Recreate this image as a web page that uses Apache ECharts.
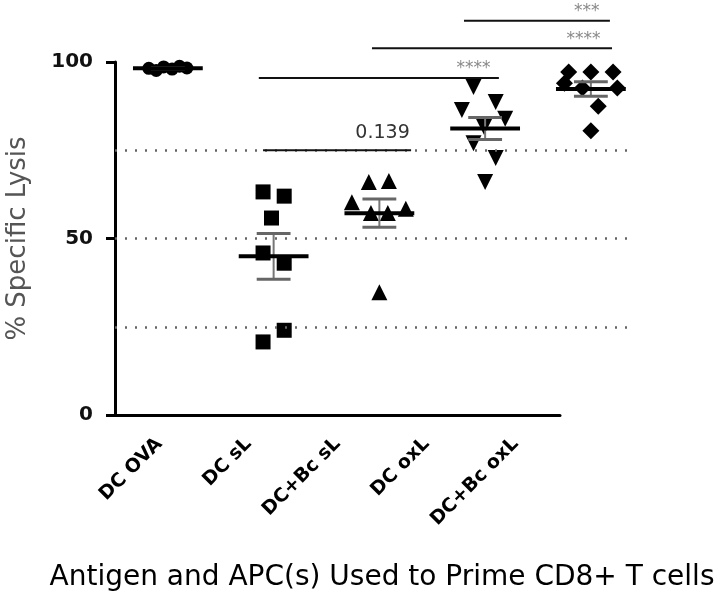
<!DOCTYPE html>
<html><head><meta charset="utf-8">
<script src="https://cdn.jsdelivr.net/npm/echarts@6/dist/echarts.min.js"></script>
<style>html,body{margin:0;padding:0;background:#fff}#c{width:720px;height:599px}</style>
</head><body><div id="c"></div>
<script>
const categories = ['DC OVA', 'DC sL', 'DC+Bc sL', 'DC oxL', 'DC+Bc oxL'];
const yTicks = [0, 50, 100];
const refLines = [25, 50, 75];

// per-group measured values (% specific lysis)
const dcOVA    = [98.2, 97.6, 98.6, 98.0, 98.8, 98.3];
const dcSL     = [63.2, 62.0, 55.8, 45.9, 43.0, 24.0, 20.7];
const dcBcSL   = [66.0, 66.3, 60.3, 58.4, 57.2, 57.2, 34.8];
const dcOxL    = [92.9, 88.7, 86.4, 83.9, 81.6, 77.0, 72.8, 66.0];
const dcBcOxL  = [97.2, 97.2, 97.2, 94.0, 92.6, 92.6, 87.5, 80.5];
// horizontal jitter within each group (category units)
const jitOVA   = [-0.18, -0.11, -0.04, 0.04, 0.11, 0.18];
const jitSL    = [-0.10, 0.10, -0.02, -0.10, 0.10, 0.10, -0.10];
const jitBcSL  = [-0.10, 0.09, -0.26, 0.25, -0.08, 0.08, 0.00];
const jitOxL   = [-0.11, 0.10, -0.22, 0.19, -0.01, -0.11, 0.10, 0.00];
const jitBcOxL = [-0.21, 0.00, 0.21, -0.25, -0.08, 0.25, 0.07, 0.00];

// significance brackets
const sigFrom   = [0.9, 0.86, 1.93, 2.8];
const sigTo     = [2.3, 3.13, 4.2, 4.18];
const sigLevel  = [75.0, 95.5, 103.9, 111.7];
const sigLabel  = ['0.139', '****', '****', '***'];
const sigLabelX = [2.03, 2.89, 3.93, 3.96];

const groups = [dcOVA, dcSL, dcBcSL, dcOxL, dcBcOxL];
const jitters = [jitOVA, jitSL, jitBcSL, jitOxL, jitBcOxL];
const symbols = ['circle', 'rect', 'triangle', 'path://M0,0 L10,0 L5,9 Z', 'diamond'];
const symSizes = [13, 15, 16, 16, 17];

function stats(a){
  const n=a.length, m=a.reduce((s,v)=>s+v,0)/n;
  const sd=Math.sqrt(a.reduce((s,v)=>s+(v-m)*(v-m),0)/(n-1));
  return [m, sd/Math.sqrt(n)];
}
const summary = groups.map((g,i)=>{const [m,se]=stats(g);return [i,m,se];});

const chart = echarts.init(document.getElementById('c'));
const scatterSeries = groups.map((g,i)=>({
  type:'scatter', xAxisIndex:1, yAxisIndex:1,
  symbol: symbols[i], symbolSize: symSizes[i],
  itemStyle:{color:'#000', opacity:1},
  data: g.map((v,k)=>[i+jitters[i][k], v]), z:3
}));

const option = {
  animation:false,
  grid:[
    {left:115, top:62, width:445, height:353, containLabel:false, outerBoundsMode:'none'},
    {left:115, top:2, width:512, height:413, containLabel:false, outerBoundsMode:'none'}
  ],
  xAxis:[
    {gridIndex:0, type:'category', data:categories, boundaryGap:true,
     axisLine:{lineStyle:{color:'#000', width:3}},
     axisTick:{alignWithLabel:true, length:8, lineStyle:{width:3,color:'#000'}},
     axisLabel:{rotate:45, margin:26, color:'#000', fontSize:19, fontWeight:'bold', fontFamily:'DejaVu Sans'}},
    {gridIndex:1, type:'value', min:-0.5, max:-0.5+512/105.75, show:false}
  ],
  yAxis:[
    {gridIndex:0, type:'value', min:0, max:100, interval:50,
     name:'% Specific Lysis', nameLocation:'middle', nameGap:84, nameRotate:90,
     nameTextStyle:{fontSize:26, color:'#555', fontFamily:'DejaVu Sans'},
     axisLine:{show:true, lineStyle:{color:'#000', width:3}},
     axisTick:{show:true, length:9, lineStyle:{width:3,color:'#000'}},
     axisLabel:{margin:22, color:'#111', fontSize:20, fontWeight:'bold', fontFamily:'DejaVu Sans',
       formatter:v=>yTicks.includes(v)?String(v):''},
     splitLine:{show:false}},
    {gridIndex:1, type:'value', min:0, max:413/3.53, show:false}
  ],
  graphic:[{type:'text', x:382, y:578,
    style:{text:'Antigen and APC(s) Used to Prime CD8+ T cells', textAlign:'center', textVerticalAlign:'middle',
      fontSize:28, fontFamily:'DejaVu Sans', fill:'#000'}}],
  series:[
    {type:'line', xAxisIndex:1, yAxisIndex:1, data:[], silent:true,
     markLine:{symbol:'none', silent:true, label:{show:false},
       lineStyle:{type:[2,8], width:2.5, color:'#666'},
       data: refLines.map(v=>({yAxis:v}))}},
    {type:'custom', xAxisIndex:1, yAxisIndex:1, z:4, clip:false,
     data: summary,
     renderItem:(p,api)=>{
       const x=api.value(0), m=api.value(1), se=api.value(2);
       const a=api.coord([x-0.33,m]), b=api.coord([x+0.33,m]);
       const t=api.coord([x,m+se]), bo=api.coord([x,m-se]);
       const w=0.16*105.75;
       return {type:'group', children:[
         {type:'line', shape:{x1:t[0],y1:t[1],x2:bo[0],y2:bo[1]}, style:{stroke:'#777',lineWidth:2}},
         {type:'line', shape:{x1:t[0]-w,y1:t[1],x2:t[0]+w,y2:t[1]}, style:{stroke:'#666',lineWidth:3}},
         {type:'line', shape:{x1:bo[0]-w,y1:bo[1],x2:bo[0]+w,y2:bo[1]}, style:{stroke:'#666',lineWidth:3}},
         {type:'line', shape:{x1:a[0],y1:a[1],x2:b[0],y2:b[1]}, style:{stroke:'#000',lineWidth:4}}
       ]};
     }},
    {type:'custom', xAxisIndex:1, yAxisIndex:1, z:5, clip:false,
     data: sigFrom.map((f,i)=>[f, sigTo[i], sigLevel[i], sigLabelX[i], i]),
     renderItem:(p,api)=>{
       const i=api.value(4);
       const a=api.coord([api.value(0),api.value(2)]), b=api.coord([api.value(1),api.value(2)]);
       const tp=api.coord([api.value(3),api.value(2)]);
       const isNum = sigLabel[i][0] !== '*';
       return {type:'group', children:[
         {type:'line', shape:{x1:a[0],y1:a[1],x2:b[0],y2:b[1]}, style:{stroke:'#111',lineWidth:2}},
         {type:'text', x:tp[0], y:tp[1]-(isNum?17:9), style:{text:sigLabel[i], textAlign:'center', textVerticalAlign:'middle',
           fontSize:isNum?19:17, fill:isNum?'#333':'#888', fontFamily:'DejaVu Sans'}}
       ]};
     }},
    ...scatterSeries
  ]
};
chart.setOption(option);
</script></body></html>
